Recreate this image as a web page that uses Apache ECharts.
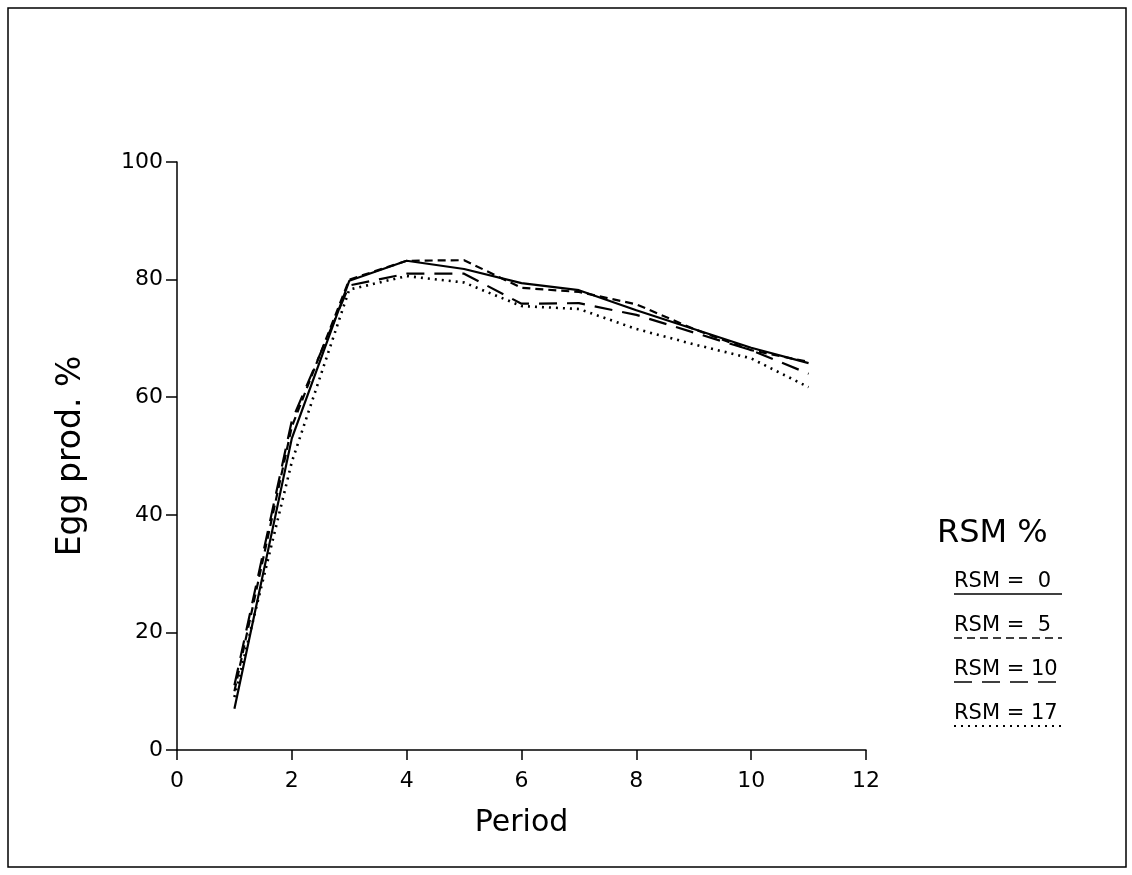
<!DOCTYPE html>
<html>
<head>
<meta charset="utf-8">
<script src="https://cdn.jsdelivr.net/npm/echarts@6/dist/echarts.min.js"></script>
<style>
  html, body { margin: 0; padding: 0; background: #fff; }
  #chart { width: 1132px; height: 875px; }
</style>
</head>
<body>
<div id="chart"></div>
<script>
// egg production per period
var periods = [1, 2, 3, 4, 5, 6, 7, 8, 9, 10, 11];
var rsm0 = [7, 53, 79.8, 83.2, 81.8, 79.4, 78.2, 74.8, 71.6, 68.4, 65.8];
var rsm5 = [10, 55, 80, 83.2, 83.3, 78.6, 77.9, 75.8, 71.6, 68, 66];
var rsm10 = [11, 56, 79, 81, 81, 75.9, 76, 74, 71, 68, 64];
var rsm17 = [9, 49, 78.3, 80.6, 79.5, 75.5, 75, 71.6, 69, 66.6, 61.7];
var legendNames = ['RSM =  0', 'RSM =  5', 'RSM = 10', 'RSM = 17'];
var xTicks = [0, 2, 4, 6, 8, 10, 12];
var yTicks = [0, 20, 40, 60, 80, 100];

var font = 'DejaVu Sans';
var styles = [
    { type: 'solid', width: 2.2 },
    { type: [8, 5], width: 2.2 },
    { type: [18, 10], width: 2.2 },
    { type: [2, 5], width: 2.6 }
];
var allData = [rsm0, rsm5, rsm10, rsm17];

function pairs(vals) {
    var out = [];
    for (var i = 0; i < periods.length; i++) {
        out.push([periods[i], vals[i]]);
    }
    return out;
}

var series = [];
for (var i = 0; i < allData.length; i++) {
    series.push({
        name: legendNames[i],
        type: 'line',
        data: pairs(allData[i]),
        symbol: 'none',
        lineStyle: { color: '#000', width: styles[i].width, type: styles[i].type },
        animation: false
    });
}

// hand-drawn legend: label with its line style underneath
var legendItems = [{
    type: 'text', left: 937, top: 518,
    style: { text: 'RSM %', font: '32px "' + font + '"', fill: '#000' }
}];
for (var k = 0; k < legendNames.length; k++) {
    var y0 = 571 + k * 44;
    legendItems.push({
        type: 'text', left: 954, top: y0,
        style: { text: legendNames[k], font: '21px "' + font + '"', fill: '#000' }
    });
    legendItems.push({
        type: 'line',
        shape: { x1: 954, y1: y0 + 23, x2: 1062, y2: y0 + 23 },
        style: { stroke: '#000', lineWidth: styles[k].width - 0.5, lineDash: styles[k].type === 'solid' ? null : styles[k].type }
    });
}
legendItems.push({
    type: 'rect',
    shape: { x: 8, y: 8, width: 1118, height: 859 },
    style: { fill: 'none', stroke: '#000', lineWidth: 1.5 }
});

var chart = echarts.init(document.getElementById('chart'), null, { renderer: 'canvas' });
chart.setOption({
    backgroundColor: '#fff',
    animation: false,
    grid: { left: 177, top: 162, right: 266, bottom: 125 },
    xAxis: {
        type: 'value',
        min: xTicks[0], max: xTicks[xTicks.length - 1], interval: 2,
        name: 'Period', nameLocation: 'middle', nameGap: 58,
        nameTextStyle: { fontFamily: font, fontSize: 30, color: '#000' },
        axisLine: { lineStyle: { color: '#000', width: 1.5 } },
        axisTick: { length: 10, lineStyle: { color: '#000', width: 1.5 } },
        axisLabel: { fontFamily: font, fontSize: 22, color: '#000', margin: 20 },
        splitLine: { show: false }
    },
    yAxis: {
        type: 'value',
        min: yTicks[0], max: yTicks[yTicks.length - 1], interval: 20,
        name: 'Egg prod. %', nameLocation: 'middle', nameGap: 89,
        nameTextStyle: { fontFamily: font, fontSize: 33, color: '#000' },
        axisLine: { show: true, lineStyle: { color: '#000', width: 1.5 } },
        axisTick: { show: true, length: 11, lineStyle: { color: '#000', width: 1.5 } },
        axisLabel: { fontFamily: font, fontSize: 22, color: '#000', margin: 14 },
        splitLine: { show: false }
    },
    series: series,
    graphic: legendItems
});
</script>
</body>
</html>
